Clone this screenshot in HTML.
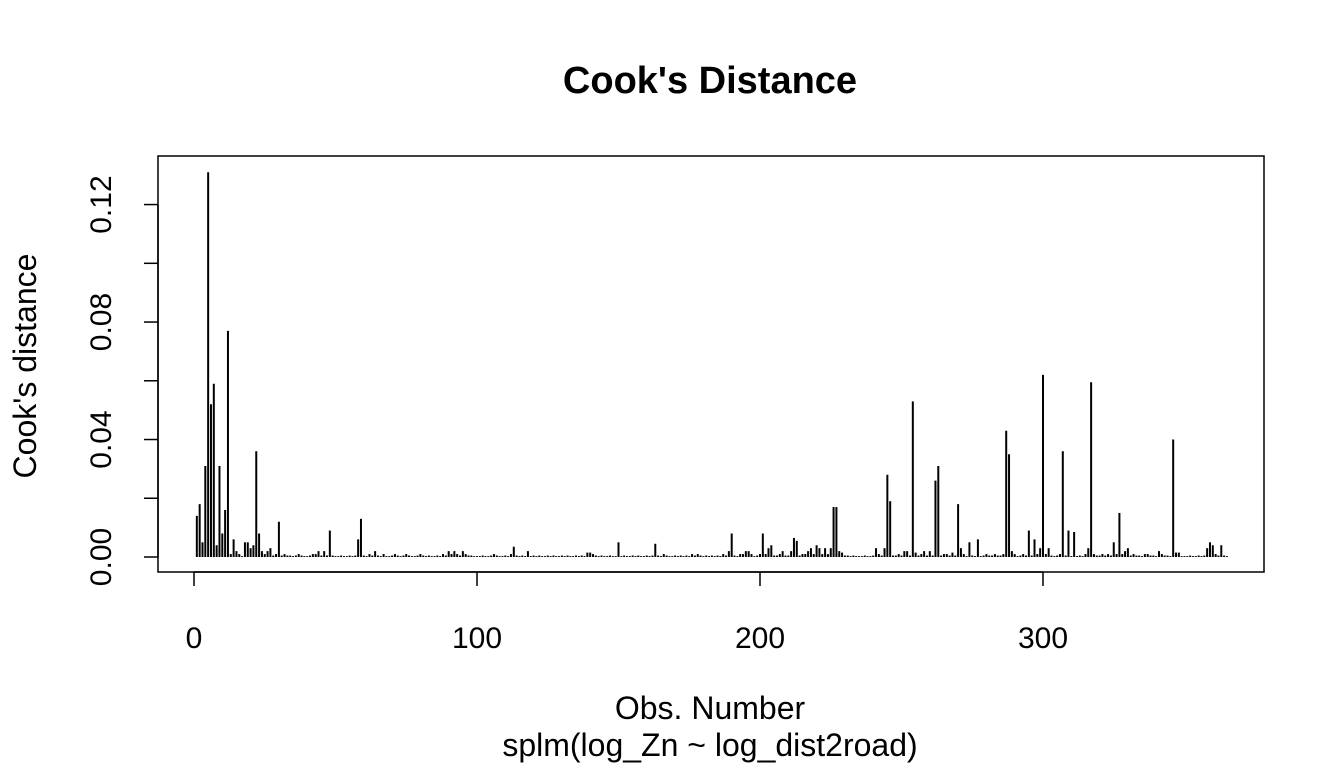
<!DOCTYPE html>
<html><head><meta charset="utf-8"><style>body{margin:0;background:#fff}svg{display:block;font-family:"Liberation Sans",Arial,sans-serif}</style></head>
<body>
<svg id="chart" width="1344" height="768">
<text x="710" y="93" text-anchor="middle" font-size="38" font-weight="bold">Cook's Distance</text>
<rect x="158" y="156" width="1106" height="416" fill="none" stroke="#000" stroke-width="1.5"/>
<g id="bars"></g>
<g id="xaxis"></g>
<g id="yaxis"></g>
<text x="710" y="719" text-anchor="middle" font-size="32">Obs. Number</text>
<text x="710" y="756" text-anchor="middle" font-size="32">splm(log_Zn ~ log_dist2road)</text>
<text transform="translate(36,366) rotate(-90)" text-anchor="middle" font-size="32">Cook's distance</text>
</svg>
<script>
const cooksD = [
14,18,5,31,131,52,59,4,31,8,
16,77,1,6,2,1,0.3,5,5,3,
4,36,8,2,1,2,3,0.5,1,12,
.5,1,.5,.5,.3,.5,1,.5,.3,.3,
.5,1,1,2,.5,2,.5,9,.5,.3,
.3,.5,.3,.3,.5,.3,.5,6,13,.5,
.3,1,.5,2,.5,.3,1,.3,.3,.5,
1,.5,.3,.5,1,.5,.3,.3,.5,1,
.5,.3,.5,.3,.3,.5,.3,1,.5,2,
1,2,1,.5,2,1,.5,.5,.3,.3,
.3,.5,.3,.3,.5,1,.5,.3,.3,.5,
.3,1,3.5,.5,.3,.5,.3,2,.3,.5,
.3,.5,.3,.3,.5,.3,.5,.3,.3,.5,
.3,.5,.3,.3,.5,.3,.5,.3,1.5,1.5,
1,.5,.3,.5,.3,.3,.5,.3,.3,5,
.3,.5,.3,.3,.5,.3,.5,.3,.3,.5,
.3,.5,4.5,.5,.3,1,.5,.3,.3,.5,
.3,.5,.3,.5,.3,1,.5,1,.5,.3,
.5,.3,.5,.3,.5,.3,1,.5,2,8,
.5,.3,1,1,2,2,1,.3,.5,1,
8,1,3,4,.5,.5,1,2,.5,.5,
2,6.5,5.5,.5,1,1,2,3,1,4,
3,1,3,1,3,17,17,2,1.5,.5,
.5,.3,.5,.3,.3,.3,.5,.3,.3,.5,
3,1,.5,3,28,19,.5,.5,1,.5,
2,2,.5,53,1.5,.5,1,2,.5,2,
.5,26,31,.5,1,1,.5,1.5,.5,18,
3,1,.3,5,.5,.3,6,.3,.5,1,
.5,.5,1,.5,.5,1,43,35,2,1,
.3,.5,1,.5,9,.5,6,1,3,62,
1,3,.5,.3,.5,1,36,.5,9,.3,
8.5,.3,.5,.3,1,3,59.5,1,.5,.5,
1,.5,1,.5,5,1,15,1,2,3,
.5,1,.5,.5,.3,1,1,.5,.5,.3,
2,1,.5,.5,.3,40,1.5,1.5,.3,.3,
.3,.5,.3,.3,.5,.3,.5,3,5,4,
1,.5,4,.5,.3
].map(v => v / 1000);
const xTicks = [0, 100, 200, 300];
const yTicks = [0, 0.04, 0.08, 0.12];
const yTickLabels = ["0.00", "0.04", "0.08", "0.12"];
const yMinorTicks = [0.02, 0.06, 0.10];

const NS = "http://www.w3.org/2000/svg";
const xs = v => 194 + v * 2.83;
const ys = v => 557 - v * 2937;
function mk(tag, attrs, parent) {
  const e = document.createElementNS(NS, tag);
  for (const k in attrs) e.setAttribute(k, attrs[k]);
  parent.appendChild(e);
  return e;
}
const bars = document.getElementById('bars');
cooksD.forEach((v, i) => {
  const x = xs(i + 1);
  const l = mk('line', {x1: x, x2: x, y1: ys(0), y2: ys(v), stroke: '#000', 'stroke-width': 2}, bars);
  
  
});
const xa = document.getElementById('xaxis');
mk('line', {x1: xs(0), x2: xs(300), y1: 572, y2: 572, stroke: '#000', 'stroke-width': 1.5}, xa);
xTicks.forEach(t => {
  mk('line', {x1: xs(t), x2: xs(t), y1: 572, y2: 586, stroke: '#000', 'stroke-width': 1.5}, xa);
  const tx = mk('text', {x: xs(t), y: 648, 'text-anchor': 'middle', 'font-size': 30}, xa);
  tx.textContent = t;
  
  
});
const ya = document.getElementById('yaxis');
mk('line', {x1: 158, x2: 158, y1: ys(0), y2: ys(0.12), stroke: '#000', 'stroke-width': 1.5}, ya);
yTicks.concat(yMinorTicks).forEach(t => {
  mk('line', {x1: 144, x2: 158, y1: ys(t), y2: ys(t), stroke: '#000', 'stroke-width': 1.5}, ya);
});
yTicks.forEach((t, i) => {
  const tx = mk('text', {transform: `translate(111,${ys(t)}) rotate(-90)`, 'text-anchor': 'middle', 'font-size': 30}, ya);
  tx.textContent = yTickLabels[i];
  
  
});
</script>
</body></html>
